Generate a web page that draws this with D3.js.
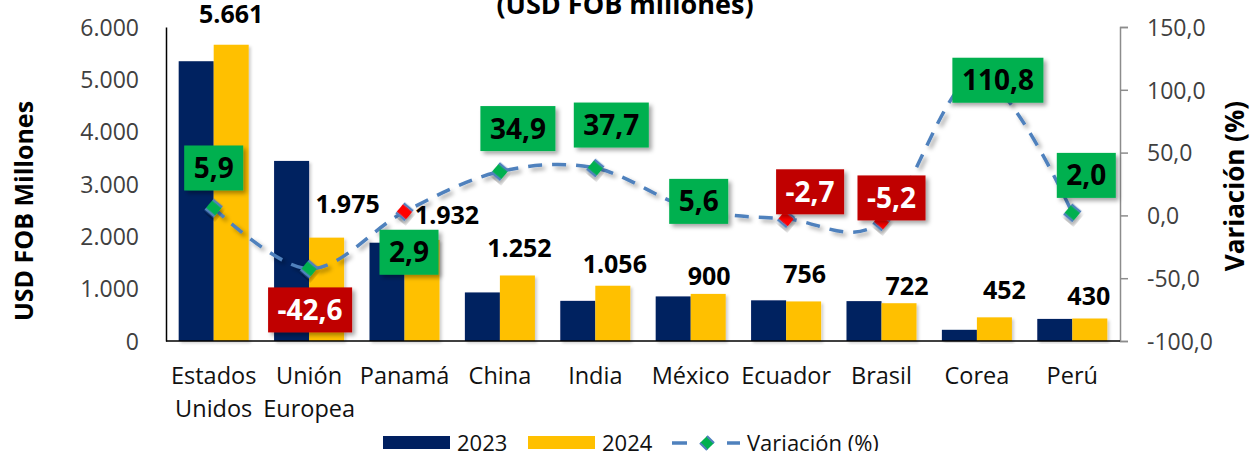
<!DOCTYPE html>
<html lang="es">
<head>
<meta charset="utf-8">
<title>Exportaciones por destino</title>
<script src="https://d3js.org/d3.v7.min.js"></script>
<style>
  body { margin: 0; background: #fff; }
  text { font-family: "Open Sans", "Noto Sans", sans-serif; }
</style>
</head>
<body>
<script>
// data
var categories = ["Estados Unidos", "Unión Europea", "Panamá", "China", "India", "México", "Ecuador", "Brasil", "Corea", "Perú"]
var values2023 = [5346, 3441, 1878, 928, 767, 852, 777, 762, 214, 422]
var values2024 = [5661, 1975, 1932, 1252, 1056, 900, 756, 722, 452, 430]
var variation = [5.9, -42.6, 2.9, 34.9, 37.7, 5.6, -2.7, -5.2, 110.8, 2.0]
var leftTicks = [0, 1000, 2000, 3000, 4000, 5000, 6000]
var rightTicks = [-100, -50, 0, 50, 100, 150]
var seriesNames = ["2023", "2024", "Variación (%)"]

// layout tweaks (label nudges, marker colours as in the original)
var barLabelNudge = [[0,-31],[21,-34],[25,-25],[2,-27.5],[2,-22],[1,-18],[1,-27],[8,-17],[10,-27],[-1,-22.5]]
var varLabelNudge = [[0,-40],[1,41],[4.5,40.5],[18,-43],[16,-43],[8,-7],[24,-27],[10,-24],[21,4],[14,-37.5]]
var markerFill = ["#00b050","#00b050","#ff0000","#00b050","#00b050","#00b050","#ff0000","#ff0000","#00b050","#00b050"]

var w = 1251, h = 451
var pLeft = 166, pRight = 1120, pTop = 27, pBottom = 341
var navy = "#002060", gold = "#ffc000", lineBlue = "#4f81bd"

var loc = d3.formatLocale({decimal: ",", thousands: ".", grouping: [3], currency: ["", ""], minus: "-"})
var fmtThousands = loc.format(",")
var fmtPct = loc.format(",.1f")

var svg = d3.select("body").append("svg")
	.attr("width", w)
	.attr("height", h)

var defs = svg.append("defs")
var f = defs.append("filter").attr("id", "shadow")
	.attr("x", "-30%").attr("y", "-30%").attr("width", "160%").attr("height", "160%")
f.append("feDropShadow").attr("dx", 3).attr("dy", 3).attr("stdDeviation", 2)
	.attr("flood-color", "#000").attr("flood-opacity", 0.35)
var fb = defs.append("filter").attr("id", "barshadow")
	.attr("x", "-20%").attr("y", "-10%").attr("width", "140%").attr("height", "120%")
fb.append("feDropShadow").attr("dx", 2).attr("dy", 2).attr("stdDeviation", 1.5)
	.attr("flood-color", "#000").attr("flood-opacity", 0.2)

// scales
var x = d3.scaleBand().domain(categories).range([pLeft, pRight])
	.paddingInner(0.266).paddingOuter(0.133)
var xSub = d3.scaleBand().domain(["2023", "2024"]).range([0, x.bandwidth()])
var yL = d3.scaleLinear().domain([0, 6000]).range([pBottom, pTop])
var yR = d3.scaleLinear().domain([-100, 150]).range([pBottom, pTop])
function cx(i) { return x(categories[i]) + x.bandwidth() / 2 }

// title (lower line of the heading)
svg.append("text")
	.attr("x", 625).attr("y", 13.5)
	.attr("text-anchor", "middle")
	.style("font-size", "27px").style("font-weight", "bold")
	.text("(USD FOB millones)")

// bars
var groups = svg.selectAll("g.cat")
	.data(categories)
	.enter().append("g").attr("class", "cat")
	.attr("transform", function(d) { return "translate(" + x(d) + ",0)" })

groups.append("rect")
	.attr("x", xSub("2023"))
	.attr("width", xSub.bandwidth())
	.attr("y", function(d, i) { return yL(values2023[i]) })
	.attr("height", function(d, i) { return pBottom - yL(values2023[i]) })
	.attr("fill", navy)
	.attr("filter", "url(#barshadow)")

groups.append("rect")
	.attr("x", xSub("2024"))
	.attr("width", xSub.bandwidth())
	.attr("y", function(d, i) { return yL(values2024[i]) })
	.attr("height", function(d, i) { return pBottom - yL(values2024[i]) })
	.attr("fill", gold)
	.attr("filter", "url(#barshadow)")

// axes
var axL = d3.axisLeft(yL).tickValues(leftTicks).tickSize(0).tickPadding(27)
	.tickFormat(function(d) { return fmtThousands(d) })
var gL = svg.append("g").attr("transform", "translate(" + pLeft + ",0)").call(axL)
gL.select(".domain").attr("stroke", "#000").attr("stroke-width", 1.5)
gL.selectAll("text").style("font-size", "23px").attr("fill", "#404040")
	.attr("font-family", null).attr("dy", "0.36em")

var axR = d3.axisRight(yR).tickValues(rightTicks).tickSize(8).tickSizeOuter(8).tickPadding(19)
	.tickFormat(function(d) { return fmtPct(d) })
var gR = svg.append("g").attr("transform", "translate(" + pRight + ",0)").call(axR)
gR.select(".domain").attr("stroke", "#8c8c8c").attr("stroke-width", 1.5)
gR.selectAll(".tick line").attr("stroke", "#8c8c8c").attr("stroke-width", 1.5)
gR.selectAll("text").style("font-size", "23px").attr("fill", "#404040")
	.attr("font-family", null).attr("dy", "0.36em")

svg.append("line")
	.attr("x1", pLeft).attr("x2", pRight)
	.attr("y1", pBottom).attr("y2", pBottom)
	.attr("stroke", "#000").attr("stroke-width", 1.5)

// category labels
svg.selectAll("text.cat")
	.data(categories)
	.enter().append("text").attr("class", "cat")
	.attr("text-anchor", "middle")
	.style("font-size", "23.5px").attr("fill", "#111")
	.each(function(d) {
		var t = d3.select(this)
		d.split(" ").forEach(function(part, k) {
			t.append("tspan").attr("x", x(d) + x.bandwidth() / 2)
				.attr("y", 384 + k * 33).text(part)
		})
	})

// axis titles
svg.append("text")
	.attr("transform", "translate(33,211) rotate(-90)")
	.attr("text-anchor", "middle")
	.style("font-size", "25px").style("font-weight", "bold")
	.text("USD FOB Millones")

svg.append("text")
	.attr("transform", "translate(1244,186) rotate(-90)")
	.attr("text-anchor", "middle")
	.style("font-size", "26px").style("font-weight", "bold")
	.text("Variación (%)")

// 2024 value labels
svg.selectAll("text.val")
	.data(values2024)
	.enter().append("text").attr("class", "val")
	.attr("text-anchor", "middle")
	.attr("x", function(d, i) { return x(categories[i]) + xSub("2024") + xSub.bandwidth() / 2 + barLabelNudge[i][0] })
	.attr("y", function(d, i) { return yL(d) + barLabelNudge[i][1] + 9 })
	.style("font-size", "25px").style("font-weight", "bold")
	.text(function(d) { return fmtThousands(d) })

// variation line
var pts = variation.map(function(v, i) { return [cx(i), yR(v)] })
var line = d3.line().curve(d3.curveCardinal.tension(0))

svg.append("path")
	.attr("d", line(pts))
	.attr("fill", "none")
	.attr("stroke", lineBlue)
	.attr("stroke-width", 3.5)
	.attr("stroke-dasharray", "14,10")
	.attr("filter", "url(#shadow)")

svg.selectAll("rect.mk")
	.data(pts)
	.enter().append("rect").attr("class", "mk")
	.attr("x", -6).attr("y", -6).attr("width", 12).attr("height", 12)
	.attr("transform", function(d) { return "translate(" + d[0] + "," + d[1] + ") rotate(40)" })
	.attr("fill", function(d, i) { return markerFill[i] })
	.attr("stroke", lineBlue).attr("stroke-width", 2.5)
	.attr("stroke-dasharray", "12,12")
	.attr("filter", "url(#shadow)")

// variation labels in boxes
var vl = svg.selectAll("g.vl")
	.data(variation)
	.enter().append("g").attr("class", "vl")
	.attr("transform", function(d, i) {
		return "translate(" + (pts[i][0] + varLabelNudge[i][0]) + "," + (pts[i][1] + varLabelNudge[i][1]) + ")"
	})

vl.append("rect").attr("class", "box")
	.attr("fill", function(d) { return d < 0 ? "#c00000" : "#00b050" })
	.attr("filter", "url(#shadow)")

vl.append("text")
	.attr("text-anchor", "middle")
	.attr("y", 10)
	.style("font-size", "28px").style("font-weight", "bold")
	.attr("fill", function(d) { return d < 0 ? "#fff" : "#000" })
	.text(function(d) { return fmtPct(d) })

vl.each(function() {
	var g = d3.select(this)
	var bw = g.select("text").node().getBBox().width + 19
	g.select("rect.box").attr("x", -bw / 2).attr("y", -22.5).attr("width", bw).attr("height", 45)
})

// legend
var lg = svg.append("g")
lg.append("rect").attr("x", 383).attr("y", 436).attr("width", 67).attr("height", 13).attr("fill", navy)
lg.append("text").attr("x", 457).attr("y", 451).style("font-size", "22px").attr("fill", "#111").text(seriesNames[0])
lg.append("rect").attr("x", 528).attr("y", 436).attr("width", 67).attr("height", 13).attr("fill", gold)
lg.append("text").attr("x", 602).attr("y", 451).style("font-size", "22px").attr("fill", "#111").text(seriesNames[1])
lg.append("line").attr("x1", 672).attr("x2", 740).attr("y1", 443).attr("y2", 443)
	.attr("stroke", lineBlue).attr("stroke-width", 3.5).attr("stroke-dasharray", "15,40,13")
lg.append("rect").attr("x", -5).attr("y", -5).attr("width", 10).attr("height", 10)
	.attr("transform", "translate(707,443) rotate(45)")
	.attr("fill", "#00b050").attr("stroke", lineBlue).attr("stroke-width", 2)
	.attr("stroke-dasharray", "10,10")
lg.append("text").attr("x", 747).attr("y", 451).style("font-size", "22px").attr("fill", "#111").text(seriesNames[2])
</script>
</body>
</html>
